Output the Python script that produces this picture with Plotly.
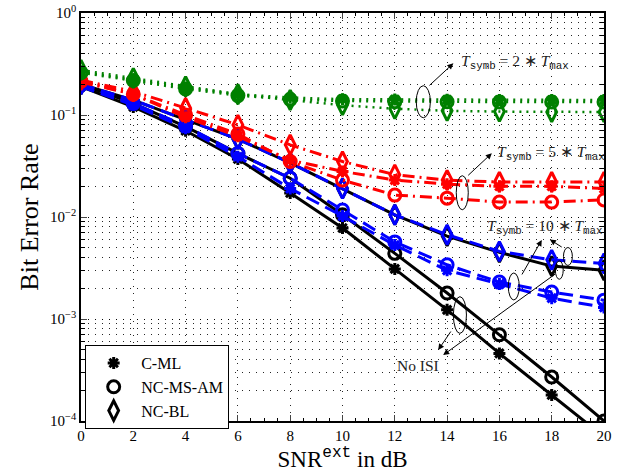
import plotly.graph_objects as go

# ---------------- data ----------------
snr_db = [0, 2, 4, 6, 8, 10, 12, 14, 16, 18, 20]

# T_symb = 2*T_max (green, dotted)
ber_t2_cml = [0.265, 0.222, 0.185, 0.16, 0.148, 0.143, 0.142, 0.141, 0.14, 0.14, 0.14]
ber_t2_ncms = [0.26, 0.218, 0.18, 0.155, 0.142, 0.137, 0.135, 0.135, 0.134, 0.134, 0.134]
ber_t2_ncbl = [0.276, 0.23, 0.19, 0.16, 0.14, 0.125, 0.115, 0.11, 0.108, 0.107, 0.107]

# T_symb = 5*T_max (red, dash-dot)
ber_t5_cml = [0.21, 0.16, 0.095, 0.062, 0.036, 0.028, 0.023, 0.021, 0.02, 0.02, 0.019]
ber_t5_ncms = [0.215, 0.16, 0.1, 0.065, 0.035, 0.023, 0.0164, 0.0153, 0.014, 0.014, 0.0147]
ber_t5_ncbl = [0.22, 0.17, 0.117, 0.08, 0.051, 0.035, 0.026, 0.023, 0.022, 0.022, 0.022]

# T_symb = 10*T_max (blue, dashed)
ber_t10_cml = [0.19, 0.125, 0.074, 0.039, 0.019, 0.0102, 0.0053, 0.003, 0.0022, 0.0016, 0.0013]
ber_t10_ncms = [0.2, 0.13, 0.078, 0.042, 0.024, 0.0117, 0.0057, 0.0034, 0.0023, 0.00184, 0.00153]
ber_t10_ncbl = [0.2, 0.14, 0.09, 0.058, 0.034, 0.019, 0.0105, 0.0067, 0.0046, 0.0038, 0.0035]

# No ISI (black, solid)
ber_noisi_cml = [0.19, 0.12, 0.07, 0.037, 0.0172, 0.0078, 0.0031, 0.00123, 0.00046, 0.00018, 0.00007]
ber_noisi_ncms = [0.2, 0.13, 0.077, 0.042, 0.024, 0.0105, 0.0044, 0.0018, 0.0007, 0.00027, 0.0001]
ber_noisi_ncbl = [0.2, 0.14, 0.09, 0.058, 0.034, 0.019, 0.0105, 0.0065, 0.0045, 0.0033, 0.003]

detector_names = ["C-ML", "NC-MS-AM", "NC-BL"]
y_tick_vals = [1e-4, 1e-3, 1e-2, 1e-1, 1]
y_tick_text = ["10<sup>\u22124</sup>", "10<sup>\u22123</sup>", "10<sup>\u22122</sup>",
               "10<sup>\u22121</sup>", "10<sup>0</sup>"]
x_tick_vals = [0, 2, 4, 6, 8, 10, 12, 14, 16, 18, 20]

# ---------------- styling ----------------
SERIF = "Liberation Serif"
MONO = "Liberation Mono"
GREEN = "#008000"
symbols = {"C-ML": "asterisk-open", "NC-MS-AM": "circle-open", "NC-BL": "diamond-tall-open"}
sizes = {"C-ML": 10, "NC-MS-AM": 12, "NC-BL": 14}

groups = [
    ("black", "solid", 3, [ber_noisi_cml, ber_noisi_ncms, ber_noisi_ncbl]),
    ("blue", "14px,7px", 3, [ber_t10_cml, ber_t10_ncms, ber_t10_ncbl]),
    ("red", "12px,5px,2px,5px", 3, [ber_t5_cml, ber_t5_ncms, ber_t5_ncbl]),
    (GREEN, "2px,5px", 2.5, [ber_t2_cml, ber_t2_ncms, ber_t2_ncbl]),
]

fig = go.Figure()
for color, dash, lw, series in groups:
    for name, vals in zip(detector_names, series):
        fig.add_trace(go.Scatter(
            x=snr_db, y=vals, mode="lines+markers", showlegend=False,
            line=dict(color=color, dash=dash, width=lw),
            marker=dict(symbol=symbols[name], size=sizes[name], color=color,
                        line=dict(color=color, width=3)),
        ))

# legend entries (black markers only)
for name in detector_names:
    fig.add_trace(go.Scatter(
        x=[None], y=[None], mode="markers", name=name,
        marker=dict(symbol=symbols[name], size=sizes[name], color="black",
                    line=dict(color="black", width=3)),
    ))

# invisible overlay axes (linear, log10 units) for annotations
fig.add_trace(go.Scatter(x=[None], y=[None], xaxis="x2", yaxis="y2", showlegend=False))


def tsym(k):
    sub_s = '<sub><span style="font-family:%s">symb</span></sub>' % MONO
    sub_m = '<sub><span style="font-family:%s">max</span></sub>' % MONO
    return "<i>T</i>%s = %s \u2217 <i>T</i>%s" % (sub_s, k, sub_m)


labels = [
    (14.45, -0.48, tsym(2), "left"),
    (15.85, -1.37, tsym(5), "left"),
    (15.45, -2.095, tsym(10), "left"),
    (12.9, -3.46, "No ISI", "center"),
]
for x, y, t, xa in labels:
    fig.add_annotation(x=x, y=y, xref="x2", yref="y2", text=t, showarrow=False,
                       xanchor=xa, yanchor="middle",
                       font=dict(family=SERIF, size=15.5, color="#222"))

# arrows: (head x, head y, tail x, tail y)
arrows = [
    (14.24, -0.493, 13.27, -0.723),
    (15.71, -1.375, 14.75, -1.605),
    (17.62, -2.225, 16.83, -2.578),
    (17.93, -2.221, 18.44, -2.304),
    (13.66, -3.304, 14.18, -3.108),
    (13.85, -3.353, 18.19, -2.549),
]
for hx, hy, tx, ty in arrows:
    fig.add_annotation(x=hx, y=hy, ax=tx, ay=ty, xref="x2", yref="y2",
                       axref="x2", ayref="y2", text="", showarrow=True,
                       arrowhead=2, arrowsize=1.2, arrowwidth=1, arrowcolor="black")

# ellipses: (cx, cy, half-width, half-height)
ellipses = [
    (13.09, -0.87, 0.27, 0.157),
    (14.58, -1.762, 0.23, 0.167),
    (16.55, -2.681, 0.21, 0.132),
    (18.62, -2.387, 0.17, 0.088),
    (14.49, -2.961, 0.25, 0.18),
    (18.29, -2.52, 0.15, 0.09),
]
for cx, cy, hw, hh in ellipses:
    fig.add_shape(type="circle", xref="x2", yref="y2",
                  x0=cx - hw, x1=cx + hw, y0=cy - hh, y1=cy + hh,
                  line=dict(color="black", width=1))

GRID = dict(gridcolor="rgba(0,0,0,0.85)", gridwidth=1, griddash="1px,6px")

fig.update_layout(
    width=619, height=473,
    margin=dict(l=81, r=15, t=13, b=52),
    paper_bgcolor="white", plot_bgcolor="white",
    font=dict(family=SERIF, size=15, color="black"),
    xaxis=dict(
        range=[0, 20], tickvals=x_tick_vals, ticks="inside", ticklen=6,
        showline=True, linecolor="black", linewidth=1.5, mirror="ticks",
        showgrid=True, **GRID, zeroline=False, automargin=False,
        tickfont=dict(family=SERIF, size=15),
        minor=dict(dtick=0.5, ticks="inside", ticklen=3, tickcolor="black", showgrid=False),
        title=dict(text='SNR<sup><span style="font-family:%s">ext</span></sup> in dB' % MONO,
                   font=dict(family=SERIF, size=23), standoff=8),
    ),
    yaxis=dict(
        type="log", range=[-4, 0], tickvals=y_tick_vals, ticktext=y_tick_text,
        ticks="inside", ticklen=6,
        showline=True, linecolor="black", linewidth=1.5, mirror="ticks",
        showgrid=True, **GRID, zeroline=False, automargin=False,
        tickfont=dict(family=SERIF, size=15),
        minor=dict(dtick="D1", ticks="inside", ticklen=4, tickcolor="black",
                   showgrid=True, **GRID),
        title=dict(text="Bit Error Rate", font=dict(family=SERIF, size=26), standoff=4),
    ),
    xaxis2=dict(range=[0, 20], overlaying="x", visible=False),
    yaxis2=dict(range=[-4, 0], overlaying="y", visible=False),
    legend=dict(
        x=0.008, y=0.186, xanchor="left", yanchor="top",
        bgcolor="white", bordercolor="black", borderwidth=1,
        font=dict(family=SERIF, size=16), itemwidth=45,
    ),
)

fig.write_html("out.html", config={"displayModeBar": False},
               post_script="document.body.style.margin='0';document.body.style.overflow='hidden';")
